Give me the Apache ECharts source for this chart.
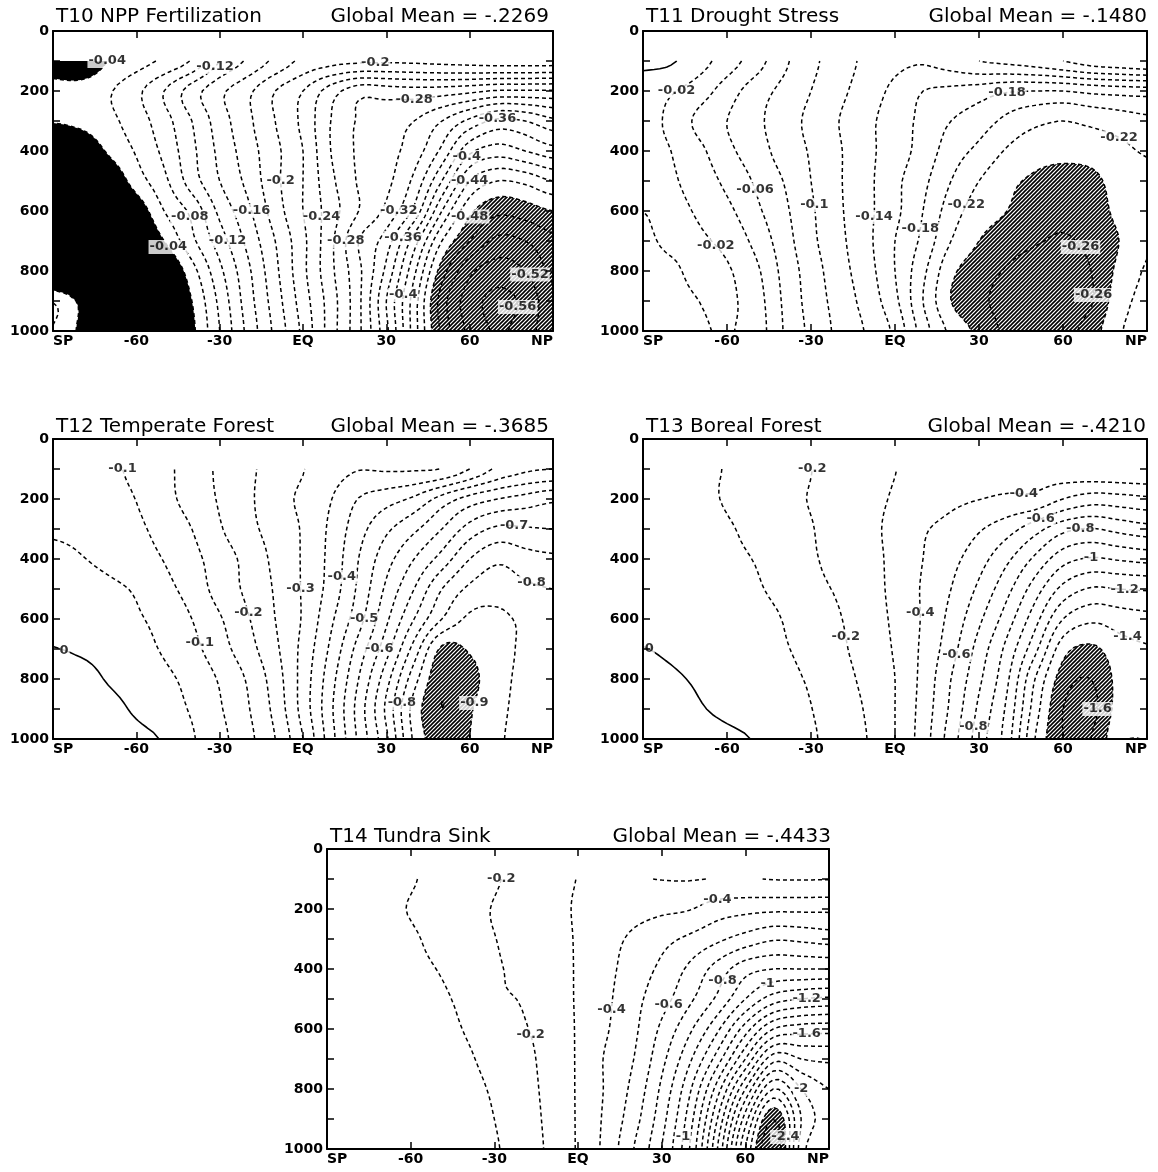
<!DOCTYPE html>
<html>
<head>
<meta charset="utf-8">
<script src="https://cdn.jsdelivr.net/npm/echarts@6/dist/echarts.min.js"></script>
<style>
  html, body { margin: 0; padding: 0; background: #fff; }
  #chart { width: 1158px; height: 1172px; }
</style>
</head>
<body>
<div id="chart"></div>
<script>
// Latitude / pressure grid on which the zonal-mean fields are tabulated
const latitudes = [-90, -80, -70, -60, -50, -40, -30, -20, -10, 0, 10, 20, 30, 40, 50, 60, 70, 80, 90];
const pressures = [100, 200, 300, 400, 500, 600, 700, 800, 900, 1000];
const latTickNames = { '-90': 'SP', '0': 'EQ', '90': 'NP' };

// T10 NPP Fertilization (rows = pressure levels, columns = latitudes)
const t10Field = [
  [-0.03, -0.02, -0.041, -0.052, -0.064, -0.082, -0.12, -0.143, -0.165, -0.185, -0.193, -0.196, -0.197, -0.196, -0.194, -0.192, -0.19, -0.19, -0.19],
  [-0.046, -0.05, -0.058, -0.075, -0.1, -0.13, -0.155, -0.175, -0.2, -0.22, -0.25, -0.272, -0.27, -0.268, -0.27, -0.275, -0.282, -0.282, -0.282],
  [-0.042, -0.046, -0.055, -0.07, -0.092, -0.12, -0.15, -0.175, -0.2, -0.225, -0.26, -0.282, -0.29, -0.3, -0.32, -0.345, -0.365, -0.36, -0.345],
  [-0.005, -0.02, -0.043, -0.062, -0.085, -0.115, -0.145, -0.17, -0.195, -0.22, -0.26, -0.283, -0.293, -0.31, -0.345, -0.395, -0.41, -0.4, -0.388],
  [0, -0.005, -0.02, -0.05, -0.075, -0.11, -0.14, -0.165, -0.195, -0.22, -0.255, -0.282, -0.295, -0.325, -0.38, -0.44, -0.46, -0.455, -0.44],
  [0, 0, -0.005, -0.025, -0.06, -0.085, -0.125, -0.155, -0.19, -0.22, -0.25, -0.28, -0.305, -0.345, -0.42, -0.475, -0.495, -0.49, -0.48],
  [0, 0, 0, -0.01, -0.04, -0.075, -0.11, -0.145, -0.18, -0.215, -0.255, -0.3, -0.33, -0.39, -0.46, -0.5, -0.525, -0.52, -0.505],
  [0, 0, 0, 0, -0.015, -0.052, -0.095, -0.135, -0.175, -0.215, -0.255, -0.295, -0.345, -0.415, -0.49, -0.535, -0.55, -0.54, -0.515],
  [-0.059, -0.035, 0, 0, -0.01, -0.04, -0.085, -0.13, -0.17, -0.21, -0.25, -0.295, -0.36, -0.43, -0.51, -0.55, -0.565, -0.555, -0.525],
  [-0.059, -0.035, 0, 0, -0.005, -0.035, -0.08, -0.125, -0.165, -0.205, -0.25, -0.295, -0.355, -0.43, -0.505, -0.545, -0.562, -0.55, -0.525]
];
const t10Levels = [-0.04, -0.06, -0.08, -0.1, -0.12, -0.14, -0.16, -0.18, -0.2, -0.22, -0.24, -0.26, -0.28, -0.3, -0.32, -0.34, -0.36, -0.38, -0.4, -0.42, -0.44, -0.46, -0.48, -0.5, -0.52, -0.54, -0.56];
const t10Labels = [
  [-0.04, -66.5, 103], [-0.12, -31.3, 108], [-0.2, 25.4, 100], [-0.28, 40.4, 241], [-0.36, 69.1, 286],
  [-0.4, 58.7, 413], [-0.44, 58.7, 502], [-0.2, -7.2, 502], [-0.08, -41.1, 623], [-0.16, -18.3, 596],
  [-0.24, 5.2, 618], [-0.32, 33.9, 596], [-0.48, 60, 607], [-0.04, -49.6, 717], [-0.12, -26.7, 707],
  [-0.28, 14.3, 706], [-0.36, 35.2, 690], [-0.52, 84.8, 828], [-0.56, 75.6, 917], [-0.4, 33.3, 878]
];

// T11 Drought Stress
const t11Field = [
  [0.004, 0.002, -0.012, -0.03, -0.05, -0.075, -0.095, -0.11, -0.125, -0.135, -0.138, -0.13, -0.12, -0.115, -0.11, -0.1, -0.09, -0.085, -0.08],
  [-0.01, -0.018, -0.03, -0.05, -0.07, -0.085, -0.1, -0.115, -0.13, -0.145, -0.16, -0.165, -0.17, -0.178, -0.18, -0.18, -0.175, -0.172, -0.17],
  [-0.012, -0.025, -0.045, -0.06, -0.075, -0.09, -0.105, -0.12, -0.135, -0.15, -0.165, -0.18, -0.19, -0.205, -0.215, -0.22, -0.215, -0.21, -0.205],
  [-0.012, -0.02, -0.035, -0.055, -0.07, -0.088, -0.102, -0.118, -0.135, -0.15, -0.168, -0.19, -0.205, -0.222, -0.232, -0.235, -0.232, -0.225, -0.218],
  [-0.016, -0.018, -0.028, -0.045, -0.062, -0.08, -0.1, -0.118, -0.135, -0.155, -0.175, -0.2, -0.22, -0.235, -0.243, -0.246, -0.245, -0.232, -0.225],
  [-0.02, -0.017, -0.022, -0.035, -0.055, -0.075, -0.097, -0.117, -0.135, -0.155, -0.18, -0.21, -0.23, -0.24, -0.25, -0.255, -0.25, -0.235, -0.226],
  [-0.022, -0.018, -0.018, -0.025, -0.045, -0.07, -0.095, -0.115, -0.135, -0.16, -0.185, -0.22, -0.24, -0.25, -0.258, -0.262, -0.255, -0.24, -0.223],
  [-0.024, -0.022, -0.017, -0.018, -0.035, -0.065, -0.09, -0.112, -0.132, -0.16, -0.195, -0.235, -0.25, -0.262, -0.27, -0.27, -0.26, -0.235, -0.218],
  [-0.026, -0.024, -0.02, -0.017, -0.03, -0.062, -0.088, -0.108, -0.128, -0.155, -0.2, -0.24, -0.255, -0.268, -0.275, -0.272, -0.262, -0.228, -0.215],
  [-0.026, -0.025, -0.022, -0.019, -0.028, -0.06, -0.085, -0.105, -0.122, -0.145, -0.19, -0.225, -0.245, -0.265, -0.272, -0.268, -0.25, -0.222, -0.215]
];
const t11Levels = [0, -0.02, -0.04, -0.06, -0.08, -0.1, -0.12, -0.14, -0.16, -0.18, -0.2, -0.22, -0.24, -0.26, -0.28];
const t11Labels = [
  [-0.02, -78, 180], [-0.18, 40.1, 219], [-0.22, 81.3, 318], [-0.06, -50.8, 534], [-0.1, -31.6, 583],
  [-0.14, -7, 622], [-0.18, 10.9, 672], [-0.22, 27.5, 594], [-0.02, -63.4, 705], [-0.26, 70, 705], [-0.26, 70, 882]
];

// T12 Temperate Forest
const t12Field = [
  [-0.07, -0.08, -0.092, -0.11, -0.14, -0.168, -0.21, -0.24, -0.27, -0.298, -0.33, -0.348, -0.345, -0.345, -0.352, -0.4, -0.46, -0.49, -0.5],
  [-0.065, -0.072, -0.085, -0.101, -0.135, -0.168, -0.205, -0.24, -0.28, -0.31, -0.348, -0.402, -0.43, -0.46, -0.52, -0.57, -0.6, -0.62, -0.64],
  [-0.055, -0.06, -0.072, -0.09, -0.118, -0.15, -0.195, -0.235, -0.27, -0.305, -0.36, -0.43, -0.49, -0.54, -0.6, -0.67, -0.71, -0.705, -0.7],
  [-0.04, -0.048, -0.06, -0.078, -0.102, -0.135, -0.175, -0.215, -0.262, -0.305, -0.365, -0.45, -0.53, -0.6, -0.67, -0.75, -0.79, -0.77, -0.76],
  [-0.03, -0.035, -0.042, -0.055, -0.085, -0.12, -0.17, -0.21, -0.255, -0.305, -0.37, -0.46, -0.56, -0.65, -0.75, -0.81, -0.83, -0.81, -0.8],
  [-0.015, -0.022, -0.032, -0.045, -0.065, -0.1, -0.145, -0.195, -0.25, -0.305, -0.39, -0.48, -0.59, -0.7, -0.8, -0.86, -0.86, -0.84, -0.82],
  [0.002, -0.008, -0.02, -0.035, -0.055, -0.085, -0.13, -0.18, -0.24, -0.315, -0.41, -0.52, -0.63, -0.77, -0.91, -0.895, -0.87, -0.84, -0.825],
  [0.04, 0.025, -0.005, -0.022, -0.04, -0.065, -0.105, -0.155, -0.225, -0.32, -0.43, -0.55, -0.68, -0.83, -0.94, -0.915, -0.87, -0.835, -0.825],
  [0.065, 0.05, 0.02, -0.008, -0.03, -0.055, -0.095, -0.145, -0.215, -0.32, -0.44, -0.57, -0.71, -0.87, -0.95, -0.905, -0.865, -0.83, -0.82],
  [0.07, 0.055, 0.035, 0.015, -0.005, -0.045, -0.085, -0.135, -0.2, -0.3, -0.43, -0.56, -0.69, -0.86, -0.93, -0.9, -0.86, -0.825, -0.82]
];
const t12Levels = [0, -0.05, -0.1, -0.15, -0.2, -0.25, -0.3, -0.35, -0.4, -0.45, -0.5, -0.55, -0.6, -0.65, -0.7, -0.75, -0.8, -0.85, -0.9, -0.95];
const t12Labels = [
  [-0.1, -64, 100], [-0.7, 75.7, 306], [-0.8, 83.5, 467], [-0.3, -2.3, 494], [-0.4, 15.9, 461],
  [-0.5, 23.1, 600], [-0.2, -21.1, 589], [-0.1, -36.7, 672], [-0.6, 26.3, 706], [-0.8, 34.1, 878],
  [-0.9, 59.5, 878], [0, -85.5, 689]
];

// T13 Boreal Forest
const t13Field = [
  [-0.09, -0.092, -0.095, -0.102, -0.12, -0.15, -0.198, -0.24, -0.27, -0.298, -0.33, -0.35, -0.36, -0.37, -0.37, -0.34, -0.32, -0.31, -0.305],
  [-0.085, -0.09, -0.093, -0.104, -0.13, -0.168, -0.205, -0.225, -0.27, -0.31, -0.348, -0.38, -0.398, -0.415, -0.425, -0.5, -0.55, -0.54, -0.52],
  [-0.075, -0.082, -0.085, -0.095, -0.115, -0.15, -0.195, -0.235, -0.27, -0.33, -0.39, -0.43, -0.49, -0.56, -0.66, -0.77, -0.805, -0.77, -0.74],
  [-0.06, -0.068, -0.077, -0.09, -0.102, -0.13, -0.19, -0.22, -0.258, -0.33, -0.4, -0.47, -0.56, -0.68, -0.82, -0.96, -1.01, -0.99, -0.97],
  [-0.04, -0.05, -0.062, -0.075, -0.093, -0.12, -0.18, -0.208, -0.25, -0.33, -0.41, -0.5, -0.62, -0.77, -0.95, -1.13, -1.21, -1.2, -1.19],
  [-0.02, -0.03, -0.045, -0.06, -0.08, -0.102, -0.16, -0.195, -0.245, -0.32, -0.41, -0.53, -0.68, -0.85, -1.06, -1.3, -1.38, -1.35, -1.33],
  [0.002, -0.012, -0.028, -0.045, -0.065, -0.092, -0.128, -0.182, -0.24, -0.31, -0.42, -0.56, -0.74, -0.93, -1.17, -1.46, -1.52, -1.44, -1.41],
  [0.03, 0.012, -0.01, -0.03, -0.05, -0.08, -0.11, -0.165, -0.225, -0.3, -0.43, -0.6, -0.78, -0.98, -1.3, -1.55, -1.6, -1.47, -1.44],
  [0.06, 0.04, 0.008, -0.02, -0.04, -0.065, -0.098, -0.15, -0.21, -0.3, -0.44, -0.62, -0.82, -1.02, -1.35, -1.6, -1.63, -1.46, -1.43],
  [0.08, 0.065, 0.045, 0.02, -0.005, -0.045, -0.088, -0.14, -0.2, -0.3, -0.45, -0.65, -0.85, -1.05, -1.4, -1.6, -1.6, -1.42, -1.4]
];
const t13Levels = [0, -0.1, -0.2, -0.3, -0.4, -0.5, -0.6, -0.7, -0.8, -0.9, -1, -1.1, -1.2, -1.3, -1.4, -1.5, -1.6];
const t13Labels = [
  [-0.2, -30.7, 106], [-0.4, 46.5, 156], [-0.6, 50.4, 256], [-0.8, 66.3, 306], [-1, 70.9, 400],
  [-1.2, 82.1, 506], [-1.4, 82.1, 672], [-1.6, 72.9, 894], [-0.4, 10.9, 583], [-0.2, -18.8, 661],
  [-0.6, 25.4, 733], [-0.8, 26.7, 956], [0, -86, 683]
];

// T14 Tundra Sink
const t14Field = [
  [-0.09, -0.085, -0.085, -0.095, -0.12, -0.15, -0.19, -0.23, -0.265, -0.302, -0.306, -0.305, -0.298, -0.296, -0.303, -0.305, -0.297, -0.296, -0.297],
  [-0.085, -0.085, -0.09, -0.103, -0.13, -0.17, -0.205, -0.24, -0.265, -0.31, -0.33, -0.36, -0.38, -0.395, -0.45, -0.47, -0.48, -0.48, -0.48],
  [-0.08, -0.08, -0.085, -0.092, -0.12, -0.165, -0.198, -0.225, -0.255, -0.31, -0.36, -0.42, -0.47, -0.52, -0.58, -0.64, -0.69, -0.68, -0.66],
  [-0.07, -0.07, -0.075, -0.085, -0.102, -0.135, -0.19, -0.215, -0.25, -0.31, -0.37, -0.45, -0.52, -0.62, -0.74, -0.86, -0.9, -0.9, -0.9],
  [-0.055, -0.055, -0.06, -0.07, -0.088, -0.12, -0.185, -0.205, -0.25, -0.31, -0.38, -0.47, -0.56, -0.68, -0.82, -1.0, -1.15, -1.2, -1.22],
  [-0.04, -0.04, -0.045, -0.055, -0.075, -0.105, -0.14, -0.19, -0.235, -0.31, -0.39, -0.48, -0.62, -0.78, -0.98, -1.25, -1.5, -1.55, -1.56],
  [-0.025, -0.025, -0.03, -0.042, -0.062, -0.09, -0.125, -0.17, -0.235, -0.31, -0.41, -0.5, -0.67, -0.88, -1.15, -1.5, -1.86, -1.8, -1.78],
  [-0.015, -0.015, -0.02, -0.032, -0.05, -0.078, -0.11, -0.16, -0.23, -0.31, -0.41, -0.53, -0.72, -0.98, -1.35, -1.8, -2.2, -2.0, -1.9],
  [-0.01, -0.01, -0.015, -0.025, -0.042, -0.068, -0.1, -0.15, -0.225, -0.31, -0.42, -0.56, -0.76, -1.05, -1.5, -2.05, -2.5, -2.1, -1.95],
  [-0.005, -0.005, -0.01, -0.02, -0.035, -0.06, -0.092, -0.14, -0.22, -0.31, -0.43, -0.6, -0.8, -1.1, -1.6, -2.2, -2.6, -2.05, -1.9]
];
const t14Levels = [-0.1, -0.2, -0.3, -0.4, -0.5, -0.6, -0.7, -0.8, -0.9, -1, -1.1, -1.2, -1.3, -1.4, -1.5, -1.6, -1.7, -1.8, -1.9, -2, -2.1, -2.2, -2.3, -2.4, -2.5, -2.6];
const t14Labels = [
  [-0.2, -28.1, 100], [-0.4, 50.8, 155], [-0.8, 52.8, 453], [-1, 67.5, 453], [-1.2, 82.3, 492],
  [-1.6, 82.3, 614], [-2, 81.7, 791], [-2.4, 73.3, 961], [-1, 33.5, 961], [-0.4, 13, 539],
  [-0.6, 36.7, 530], [-0.2, -19.8, 630]
];

const panelTitles = ['T10 NPP Fertilization', 'T11 Drought Stress', 'T12 Temperate Forest', 'T13 Boreal Forest', 'T14 Tundra Sink'];
const globalMeans = ['-.2269', '-.1480', '-.3685', '-.4210', '-.4433'];
const shadeBelow = [-0.48, -0.24, -0.9, -1.5, -2.4];   // hatched where the field is lower
const solidAbove = [-0.04, null, null, null, null];     // solid black where the field is higher

// ---- layout of the five frames ----
const frames = [
  { box: [53, 31, 500, 300], titleY: 17, rightX: 549 },
  { box: [643, 31, 504, 300], titleY: 17, rightX: 1147 },
  { box: [53, 439, 500, 300], titleY: 427, rightX: 549 },
  { box: [643, 439, 504, 300], titleY: 427, rightX: 1146 },
  { box: [327, 849, 502, 300], titleY: 837, rightX: 831 }
];
const fields = [t10Field, t11Field, t12Field, t13Field, t14Field];
const levelSets = [t10Levels, t11Levels, t12Levels, t13Levels, t14Levels];
const labelSets = [t10Labels, t11Labels, t12Labels, t13Labels, t14Labels];

// ---- smooth refinement of a coarse field (Catmull-Rom, separable) ----
function catmull(p0, p1, p2, p3, t) {
  const t2 = t * t, t3 = t2 * t;
  return 0.5 * (2 * p1 + (-p0 + p2) * t + (2 * p0 - 5 * p1 + 4 * p2 - p3) * t2 + (-p0 + 3 * p1 - 3 * p2 + p3) * t3);
}
function refine(field, sub) {
  const ny = field.length, nx = field[0].length;
  const g = (j, i) => field[Math.max(0, Math.min(ny - 1, j))][Math.max(0, Math.min(nx - 1, i))];
  const NX = (nx - 1) * sub + 1, NY = (ny - 1) * sub + 1;
  const z = [];
  for (let J = 0; J < NY; J++) {
    const fj = J / sub, j = Math.min(Math.floor(fj), ny - 2), tj = fj - j;
    const row = [];
    for (let I = 0; I < NX; I++) {
      const fi = I / sub, i = Math.min(Math.floor(fi), nx - 2), ti = fi - i;
      const c = [-1, 0, 1, 2].map(dj => catmull(g(j + dj, i - 1), g(j + dj, i), g(j + dj, i + 1), g(j + dj, i + 2), ti));
      row.push(catmull(c[0], c[1], c[2], c[3], tj));
    }
    z.push(row);
  }
  const xs = [], ys = [];
  for (let I = 0; I < NX; I++) xs.push(latitudes[0] + I * (latitudes[1] - latitudes[0]) / sub);
  for (let J = 0; J < NY; J++) ys.push(pressures[0] + J * (pressures[1] - pressures[0]) / sub);
  return { z, xs, ys };
}

// ---- marching squares with segment chaining ----
function trace(z, xs, ys, L) {
  const ny = z.length, nx = z[0].length;
  const H = (i, j) => (j * nx + i) * 2, V = (i, j) => (j * nx + i) * 2 + 1;
  const segs = [];
  for (let j = 0; j < ny - 1; j++) {
    for (let i = 0; i < nx - 1; i++) {
      const a = z[j][i], b = z[j][i + 1], c = z[j + 1][i + 1], d = z[j + 1][i];
      const k = (a > L ? 8 : 0) | (b > L ? 4 : 0) | (c > L ? 2 : 0) | (d > L ? 1 : 0);
      if (k === 0 || k === 15) continue;
      const T = H(i, j), B = H(i, j + 1), Lf = V(i, j), R = V(i + 1, j);
      const mid = (a + b + c + d) / 4 > L;
      switch (k) {
        case 1: case 14: segs.push([Lf, B]); break;
        case 2: case 13: segs.push([B, R]); break;
        case 3: case 12: segs.push([Lf, R]); break;
        case 4: case 11: segs.push([T, R]); break;
        case 6: case 9: segs.push([T, B]); break;
        case 7: case 8: segs.push([Lf, T]); break;
        case 5: if (mid) { segs.push([Lf, T]); segs.push([B, R]); } else { segs.push([T, R]); segs.push([Lf, B]); } break;
        case 10: if (mid) { segs.push([T, R]); segs.push([Lf, B]); } else { segs.push([Lf, T]); segs.push([B, R]); } break;
      }
    }
  }
  const point = key => {
    const e = key >> 1, i = e % nx, j = (e - i) / nx;
    if ((key & 1) === 0) {
      const z0 = z[j][i], z1 = z[j][i + 1], t = z1 === z0 ? 0.5 : (L - z0) / (z1 - z0);
      return [xs[i] + t * (xs[i + 1] - xs[i]), ys[j]];
    }
    const z0 = z[j][i], z1 = z[j + 1][i], t = z1 === z0 ? 0.5 : (L - z0) / (z1 - z0);
    return [xs[i], ys[j] + t * (ys[j + 1] - ys[j])];
  };
  const byKey = new Map();
  segs.forEach((s, n) => s.forEach(key => { if (!byKey.has(key)) byKey.set(key, []); byKey.get(key).push(n); }));
  const used = new Uint8Array(segs.length);
  const grow = chain => {
    for (;;) {
      const last = chain[chain.length - 1];
      const nxt = byKey.get(last).find(m => !used[m]);
      if (nxt === undefined) break;
      used[nxt] = 1;
      const s = segs[nxt];
      chain.push(s[0] === last ? s[1] : s[0]);
    }
  };
  const lines = [];
  for (let n = 0; n < segs.length; n++) {
    if (used[n]) continue;
    used[n] = 1;
    const chain = [segs[n][0], segs[n][1]];
    grow(chain); chain.reverse(); grow(chain);
    lines.push(chain.map(point));
  }
  return lines;
}

// closed outlines of the part of the field beyond a threshold (padded so every loop closes)
function regionOutlines(grid, L, below) {
  const { z, xs, ys } = grid;
  const s = below ? -1 : 1;
  const ny = z.length, nx = z[0].length;
  const zp = [];
  for (let j = -1; j <= ny; j++) {
    const row = [];
    for (let i = -1; i <= nx; i++) {
      row.push(i < 0 || j < 0 || i >= nx || j >= ny ? s * L - 1000 : s * z[j][i]);
    }
    zp.push(row);
  }
  const xp = [xs[0]].concat(xs, [xs[nx - 1]]);
  const yp = [ys[0]].concat(ys, [ys[ny - 1]]);
  return trace(zp, xp, yp, s * L);
}

function hatchPattern() {
  const c = document.createElement('canvas');
  c.width = 4; c.height = 4;
  const g = c.getContext('2d');
  g.fillStyle = '#fff'; g.fillRect(0, 0, 4, 4);
  g.strokeStyle = '#000'; g.lineWidth = 1.6;
  g.beginPath();
  g.moveTo(-1, 5); g.lineTo(5, -1);
  g.moveTo(-1, 1); g.lineTo(1, -1);
  g.moveTo(3, 5); g.lineTo(5, 3);
  g.stroke();
  return c;
}
const hatch = { type: 'pattern', image: hatchPattern(), repeat: 'repeat' };

const font = '"DejaVu Sans", Verdana, sans-serif';
const option = { animation: false, backgroundColor: '#fff', grid: [], xAxis: [], yAxis: [], series: [], graphic: [] };

frames.forEach((fr, k) => {
  const [left, top, width, height] = fr.box;
  option.grid.push({ left, top, width, height, show: false });
  const lineStyle = { color: '#000', width: 2 };
  const tickStyle = { color: '#000', width: 1.5 };
  const baseX = {
    gridIndex: k, type: 'value', min: -90, max: 90, interval: 30, z: 10,
    axisLine: { show: true, onZero: false, lineStyle },
    axisTick: { show: true, inside: true, length: 7, lineStyle: tickStyle },
    splitLine: { show: false }
  };
  option.xAxis.push(Object.assign({}, baseX, {
    position: 'bottom',
    axisLabel: {
      color: '#000', fontFamily: font, fontWeight: 'bold', fontSize: 14, margin: 3,
      alignMinLabel: 'left', alignMaxLabel: 'right',
      formatter: v => latTickNames[String(v)] || String(v)
    }
  }));
  option.xAxis.push(Object.assign({}, baseX, { position: 'top', axisLabel: { show: false } }));
  const baseY = {
    gridIndex: k, type: 'value', min: 0, max: 1000, interval: 100, inverse: true, z: 10,
    axisLine: { show: true, onZero: false, lineStyle },
    axisTick: { show: true, inside: true, length: 7, lineStyle: tickStyle },
    splitLine: { show: false }
  };
  option.yAxis.push(Object.assign({}, baseY, {
    position: 'left',
    axisLabel: {
      color: '#000', fontFamily: font, fontWeight: 'bold', fontSize: 14, margin: 4,
      formatter: v => (v % 200 === 0 ? String(v) : '')
    }
  }));
  option.yAxis.push(Object.assign({}, baseY, { position: 'right', axisLabel: { show: false } }));

  const grid = refine(fields[k], 5);
  const xi = 2 * k, yi = 2 * k;

  // filled areas
  const fills = [];
  if (solidAbove[k] !== null) regionOutlines(grid, solidAbove[k], false).forEach(p => fills.push({ pts: p, fill: '#000' }));
  regionOutlines(grid, shadeBelow[k], true).forEach(p => fills.push({ pts: p, fill: hatch }));
  option.series.push({
    type: 'custom', xAxisIndex: xi, yAxisIndex: yi, silent: true, z: 1,
    dimensions: ['lat', 'p', 'idx'], encode: { x: 'lat', y: 'p' },
    data: fills.map((f, n) => [f.pts[0][0], f.pts[0][1], n]),
    renderItem: (params, api) => {
      const f = fills[api.value(2)];
      return { type: 'polygon', shape: { points: f.pts.map(q => api.coord(q)) }, style: { fill: f.fill, stroke: null } };
    }
  });

  // contour lines
  const sets = levelSets[k].map(L => ({ level: L, lines: trace(grid.z, grid.xs, grid.ys, L) }));
  const dashed = [], solid = [];
  sets.forEach(s => s.lines.forEach(c => (s.level < 0 ? dashed : solid).push({ coords: c })));
  option.series.push({
    type: 'lines', coordinateSystem: 'cartesian2d', xAxisIndex: xi, yAxisIndex: yi, polyline: true,
    silent: true, z: 3, data: dashed,
    lineStyle: { color: '#000', width: 1.5, type: [4, 3], opacity: 1 }
  });
  if (solid.length) {
    option.series.push({
      type: 'lines', coordinateSystem: 'cartesian2d', xAxisIndex: xi, yAxisIndex: yi, polyline: true,
      silent: true, z: 3, data: solid,
      lineStyle: { color: '#000', width: 1.6, type: 'solid', opacity: 1 }
    });
  }

  // contour labels, each pulled onto its own line
  const labelPts = labelSets[k].map(([v, lat, p]) => {
    const set = sets.find(s => Math.abs(s.level - v) < 1e-6);
    let best = [lat, p], bd = Infinity;
    if (set) set.lines.forEach(line => line.forEach(q => {
      const dx = (q[0] - lat) / 180 * width, dy = (q[1] - p) / 1000 * height;
      const d = dx * dx + dy * dy;
      if (d < bd) { bd = d; best = q; }
    }));
    if (bd > 20 * 20) best = [lat, p];
    const text = String(v);
    const half = (text.length * 4.2 + 2) / width * 180;
    const x = Math.max(-90 + half, Math.min(90 - half, best[0]));
    return { value: [x, best[1]], label: { formatter: text } };
  });
  option.series.push({
    type: 'scatter', xAxisIndex: xi, yAxisIndex: yi, silent: true, z: 6,
    symbolSize: 1, itemStyle: { color: 'rgba(0,0,0,0)' },
    label: {
      show: true, position: 'inside', color: '#000', fontFamily: font, fontWeight: 'bold', fontSize: 13,
      backgroundColor: '#fff', padding: [1, 1, 0, 1]
    },
    data: labelPts
  });

  // headings
  option.graphic.push({
    type: 'text', x: left + 3, y: fr.titleY,
    style: { text: panelTitles[k], font: '20px ' + font, fill: '#000', textAlign: 'left', align: 'left', textVerticalAlign: 'middle', verticalAlign: 'middle' }
  });
  option.graphic.push({
    type: 'text', x: fr.rightX, y: fr.titleY,
    style: { text: 'Global Mean = ' + globalMeans[k], font: '20px ' + font, fill: '#000', textAlign: 'right', align: 'right', textVerticalAlign: 'middle', verticalAlign: 'middle' }
  });
});

const chart = echarts.init(document.getElementById('chart'));
chart.setOption(option);
</script>
</body>
</html>
